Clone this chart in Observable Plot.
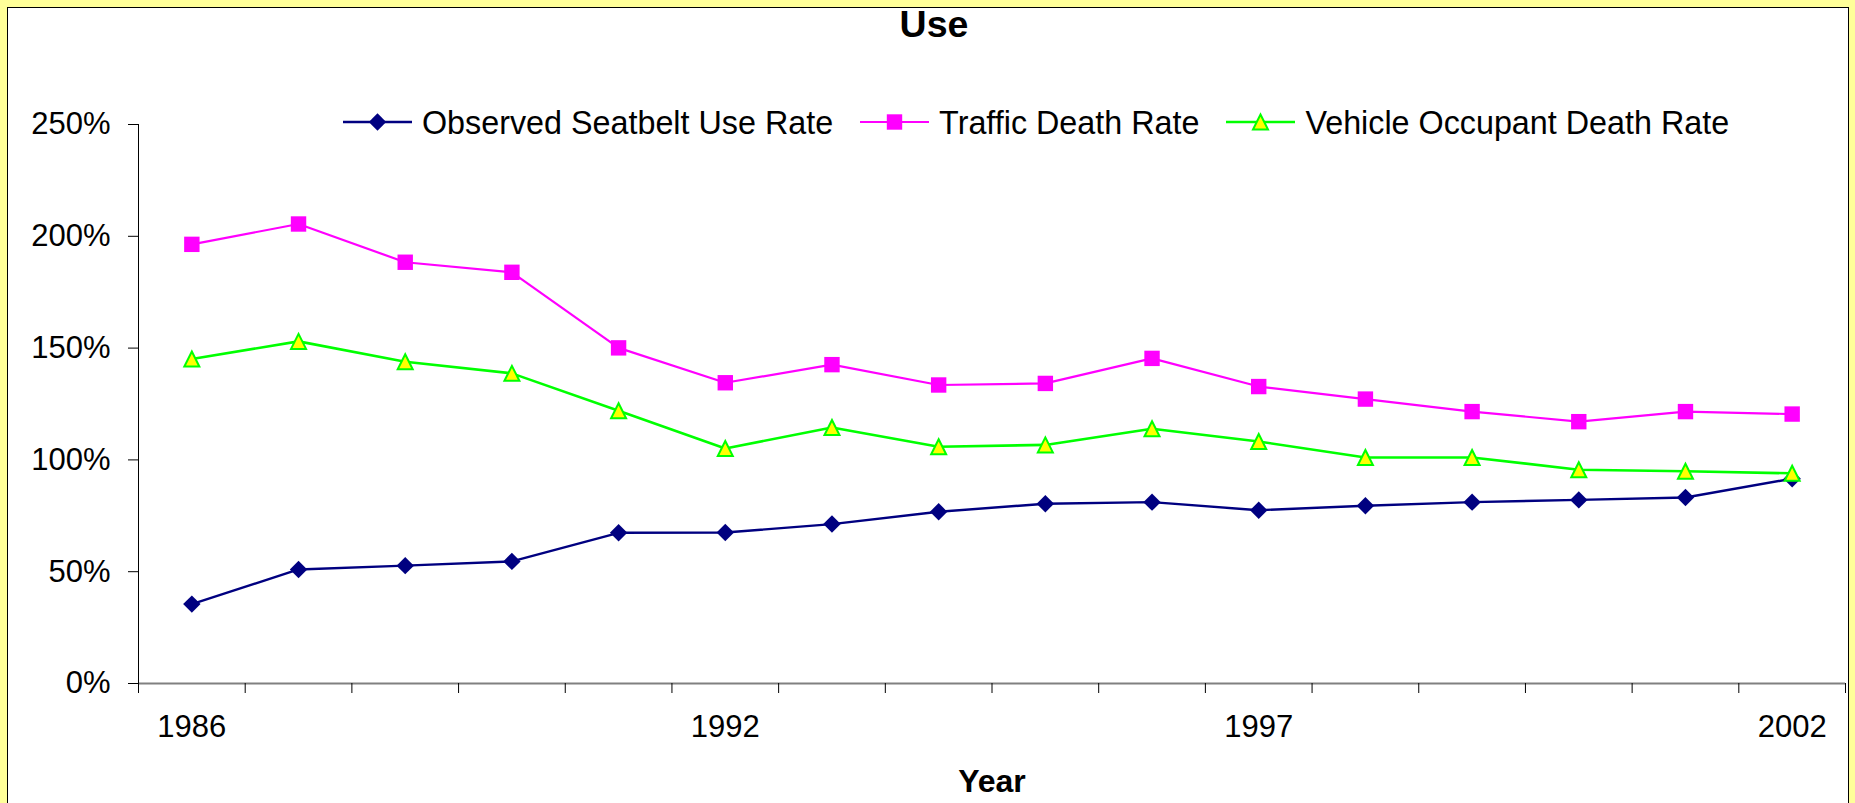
<!DOCTYPE html>
<html>
<head>
<meta charset="utf-8">
<script src="https://cdn.jsdelivr.net/npm/d3@7"></script>
<script src="https://cdn.jsdelivr.net/npm/@observablehq/plot@0.6"></script>
<style>
  html, body { margin: 0; padding: 0; }
  body { width: 1855px; height: 803px; background: #FFFF99; position: relative; overflow: hidden;
         font-family: "Liberation Sans", Arial, sans-serif; }
  #chart { position: absolute; left: 7px; top: 7px; width: 1840px; height: 810px; background: #fff;
           border-left: 1px solid #000; border-top: 1px solid #000; border-right: 1px solid #000; }
  #title { position: absolute; left: 0; width: 1852px; top: -2px; text-align: center;
           font-size: 37.5px; line-height: 37.5px; font-weight: bold; color: #000; }
  #legend { position: absolute; left: 335px; top: 99px; display: flex; gap: 27px; }
  .item { display: flex; align-items: center; height: 32px; }
  .item svg { display: block; margin-right: 10px; position: relative; top: -1px; }
  .item span { font-size: 32.3px; line-height: 32px; white-space: nowrap; color: #000; }
  #plot { position: absolute; left: 0; top: 0; }
</style>
</head>
<body>
<div id="chart">
  <div id="title">Use</div>
  <div id="plot"></div>
  <div id="legend"></div>
</div>
<script>
// ---- data ----
const years = [1986, 1988, 1989, 1990, 1991, 1992, 1993, 1994, 1995, 1996, 1997, 1998, 1999, 2000, 2001, 2002];
const seatbeltUse = [0.355, 0.510, 0.527, 0.546, 0.674, 0.675, 0.713, 0.768, 0.804, 0.811, 0.775, 0.795, 0.811, 0.821, 0.832, 0.916];
const trafficDeath = [1.964, 2.055, 1.884, 1.839, 1.501, 1.345, 1.426, 1.335, 1.342, 1.454, 1.328, 1.272, 1.216, 1.171, 1.216, 1.205];
const occupantDeath = [1.451, 1.530, 1.439, 1.387, 1.220, 1.051, 1.145, 1.059, 1.067, 1.139, 1.082, 1.011, 1.011, 0.956, 0.949, 0.940];
const seriesNames = ["Observed Seatbelt Use Rate", "Traffic Death Rate", "Vehicle Occupant Death Rate"];
const yTicks = [0, 0.5, 1, 1.5, 2, 2.5];
const labeledYears = [1986, 1992, 1997, 2002];
const titleText = "Use";
const xTitle = "Year";

// ---- symbols (Excel-like markers) ----
const diamondSym = { draw(ctx, size) { const r = Math.sqrt(size / Math.PI);
  ctx.moveTo(0, -r); ctx.lineTo(r, 0); ctx.lineTo(0, r); ctx.lineTo(-r, 0); ctx.closePath(); } };
const squareSym = { draw(ctx, size) { const r = Math.sqrt(size / Math.PI);
  ctx.moveTo(-r, -r); ctx.lineTo(r, -r); ctx.lineTo(r, r); ctx.lineTo(-r, r); ctx.closePath(); } };
const triSym = { draw(ctx, size) { const r = Math.sqrt(size / Math.PI);
  ctx.moveTo(0, -r); ctx.lineTo(r, r); ctx.lineTo(-r, r); ctx.closePath(); } };

const styles = [
  { stroke: "#000080", width: 2.4, sym: diamondSym, r: 8.7, fill: "#000080", symStroke: "none", sw: 0 },
  { stroke: "#FF00FF", width: 2.2, sym: squareSym, r: 7.7, fill: "#FF00FF", symStroke: "none", sw: 0 },
  { stroke: "#00FF00", width: 2.6, sym: triSym, r: 7.5, fill: "#FFFF00", symStroke: "#00FF00", sw: 2 }
];

const values = [seatbeltUse, trafficDeath, occupantDeath];
const rows = values.map((arr, s) => years.map((yr, i) => ({ i, year: yr, v: arr[i], s })));

const n = years.length;
const boundaries = d3.range(n + 1).map(k => k - 0.5);
const labelIdx = years.map((y, i) => i).filter(i => labeledYears.includes(years[i]));

const marks = [
  Plot.ruleY([0], { stroke: "#808080", strokeWidth: 2 }),
  Plot.ruleX([boundaries[0]], { stroke: "#000", strokeWidth: 1 }),
  Plot.axisX({ ticks: boundaries, tickSize: 10, tickFormat: () => "", stroke: "#000" }),
  Plot.axisX({ ticks: labelIdx, tickSize: 0, tickPadding: 31, tickFormat: i => String(years[i]), fill: "#000" }),
  Plot.axisY({ ticks: yTicks, tickSize: 10, tickPadding: 18, tickFormat: d => Math.round(d * 100) + "%", fill: "#000", stroke: "#000" }),
  Plot.text([xTitle], { frameAnchor: "bottom", lineAnchor: "top", dy: 86, fontWeight: "bold", fontSize: 32, fill: "#000" })
];
rows.forEach((data, s) => {
  const st = styles[s];
  marks.push(Plot.line(data, { x: "i", y: "v", stroke: st.stroke, strokeWidth: st.width }));
  marks.push(Plot.dot(data, { x: "i", y: "v", symbol: st.sym, r: st.r, fill: st.fill, stroke: st.symStroke, strokeWidth: st.sw }));
});

const plot = Plot.plot({
  width: 1840,
  height: 795,
  marginLeft: 130,
  marginRight: 3,
  marginTop: 116,
  marginBottom: 120,
  style: { fontSize: "31px", fontFamily: "'Liberation Sans', Arial, sans-serif", background: "transparent", color: "#000" },
  x: { type: "linear", domain: [boundaries[0], boundaries[n]], label: null },
  y: { type: "linear", domain: [0, 2.5], label: null },
  marks
});
document.getElementById("plot").appendChild(plot);
document.getElementById("title").textContent = titleText;

// ---- legend ----
const legend = document.getElementById("legend");
seriesNames.forEach((name, s) => {
  const st = styles[s];
  const item = document.createElement("div");
  item.className = "item";
  const svg = d3.create("svg").attr("width", 69).attr("height", 32);
  svg.append("line").attr("x1", 0).attr("x2", 69).attr("y1", 16).attr("y2", 16)
     .attr("stroke", st.stroke).attr("stroke-width", st.width);
  const path = d3.path();
  st.sym.draw(path, Math.PI * st.r * st.r);
  svg.append("path").attr("d", path.toString()).attr("transform", "translate(34.5,16)")
     .attr("fill", st.fill).attr("stroke", st.symStroke).attr("stroke-width", st.sw);
  item.appendChild(svg.node());
  const span = document.createElement("span");
  span.textContent = name;
  item.appendChild(span);
  legend.appendChild(item);
});
</script>
</body>
</html>
